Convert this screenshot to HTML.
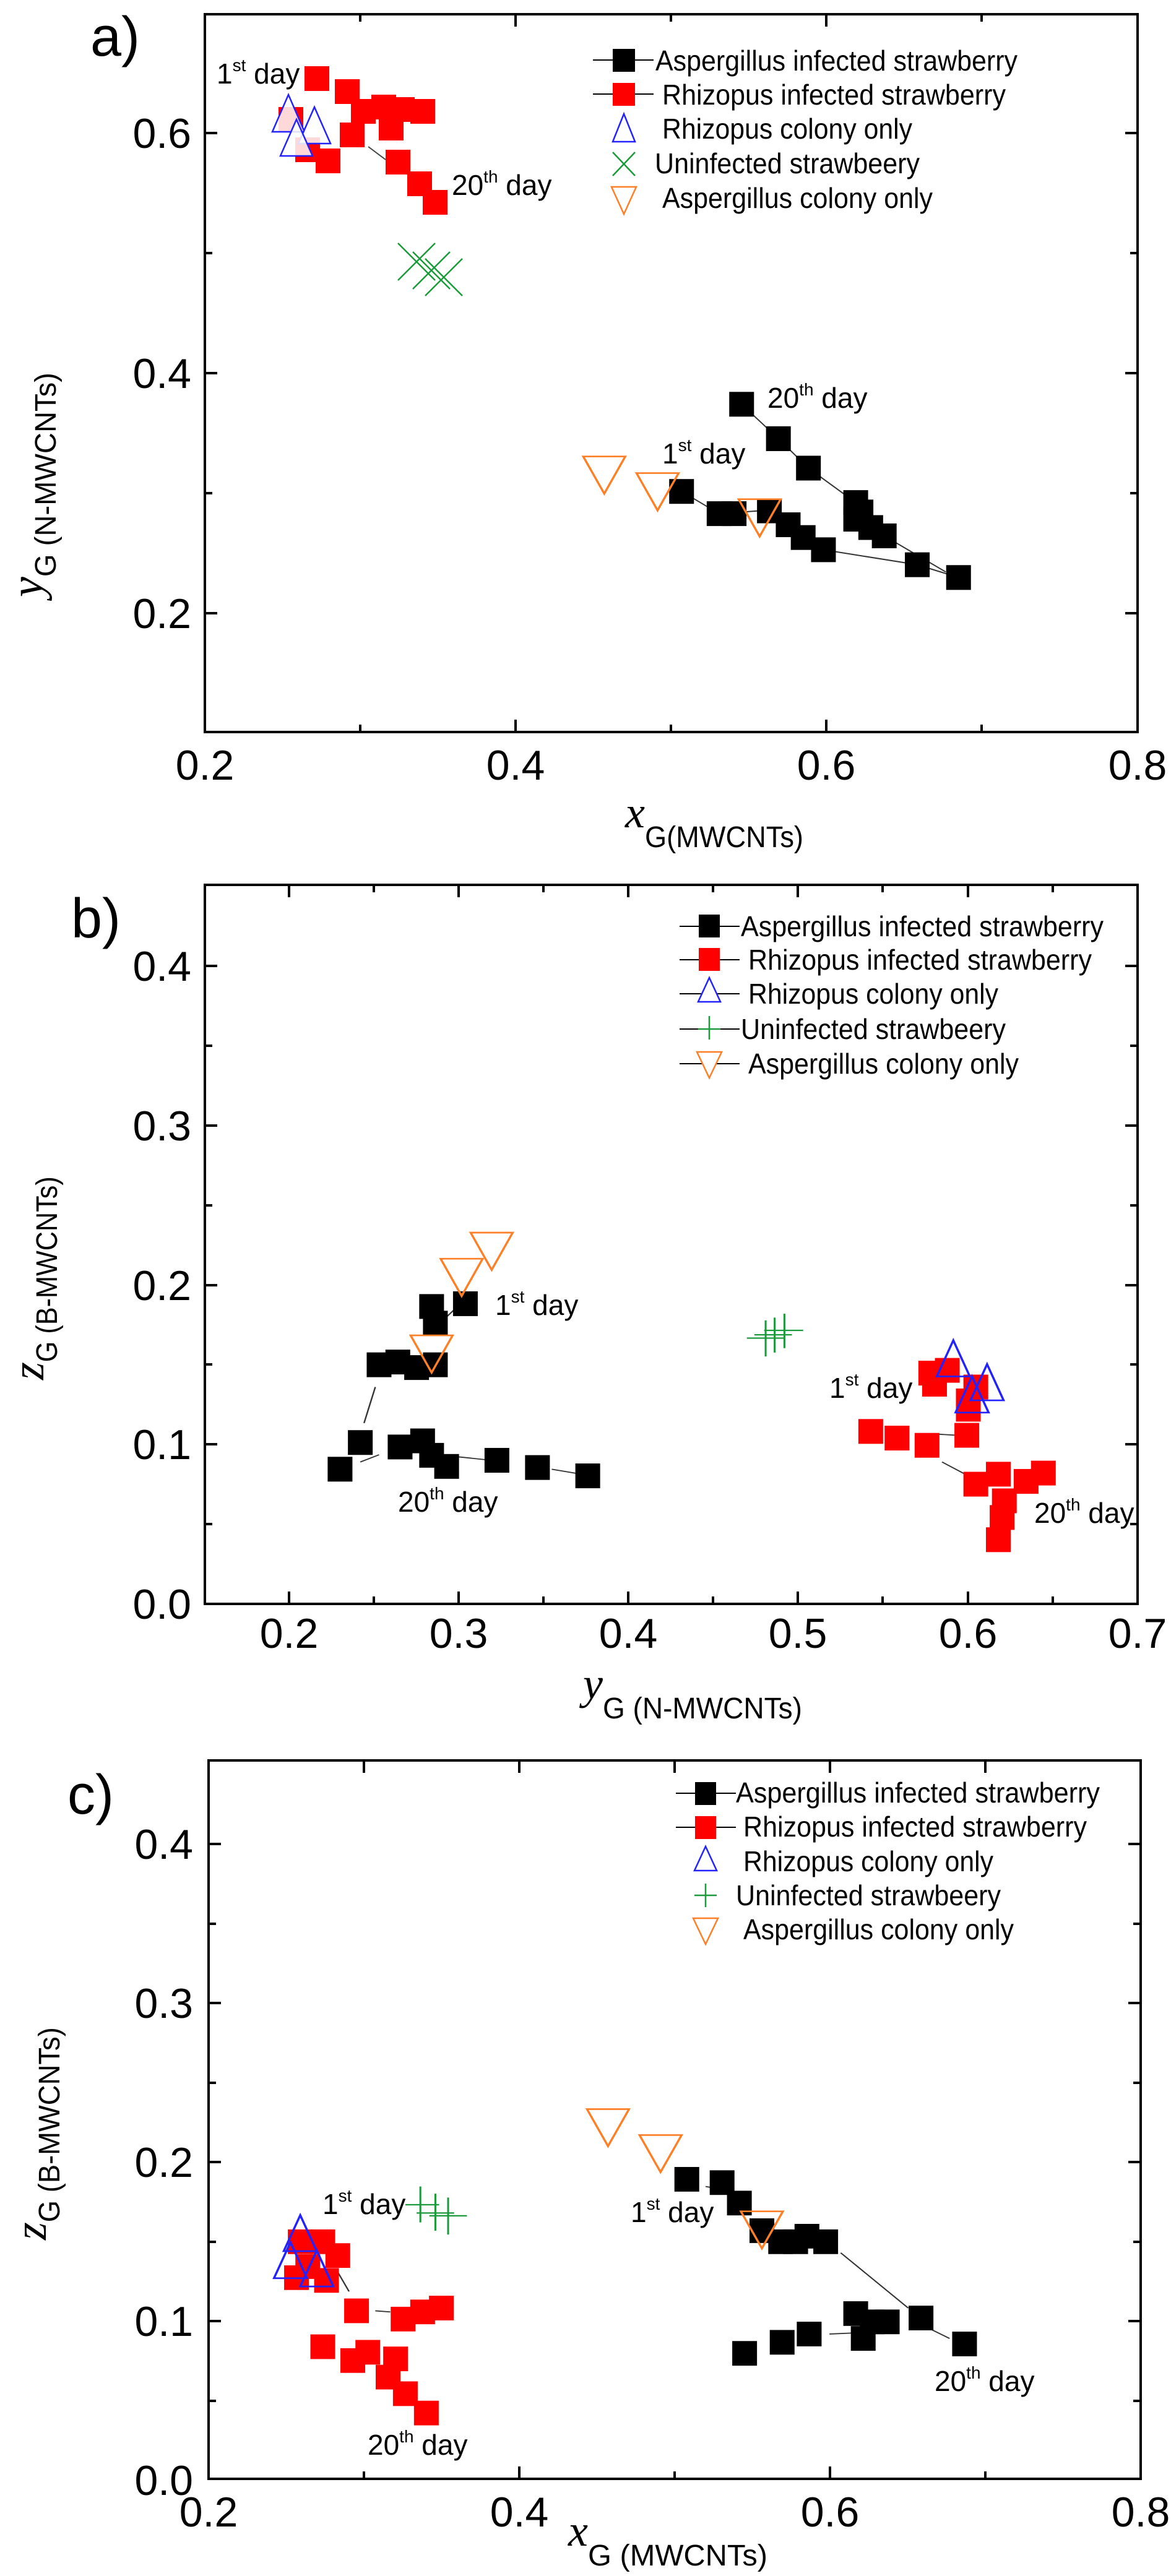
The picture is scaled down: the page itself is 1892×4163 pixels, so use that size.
<!DOCTYPE html>
<html><head><meta charset="utf-8"><style>
html,body{margin:0;padding:0;background:#fff;}
svg{display:block;}
text{font-family:"Liberation Sans",Arial,sans-serif;fill:#000;}
.it{font-family:"Liberation Serif",serif;font-style:italic;}
.sq{fill:#000;}
.rq{fill:#f00;}
.bt{fill:none;stroke:#2222ff;stroke-width:3;vector-effect:non-scaling-stroke;}
.ot{fill:none;stroke:#ff7f27;stroke-width:3;vector-effect:non-scaling-stroke;}
.gx{stroke:#1a9a3a;stroke-width:2.5;vector-effect:non-scaling-stroke;}
.ln{stroke:#333;stroke-width:2;fill:none;vector-effect:non-scaling-stroke;}
.fr{fill:none;stroke:#000;stroke-width:4;}
.tk{stroke:#000;stroke-width:4;}
.tl{font-size:68px;}
.lg{font-size:46px;}
.dl{font-size:46px;}
.sup{font-size:28px;}
</style></head><body>
<svg width="1892" height="4163" viewBox="0 0 1892 4163" xmlns="http://www.w3.org/2000/svg">
<defs>
<rect id="sqA" x="-16.5" y="-22.3" width="33" height="44.6"/>
<polygon id="tu" points="0,-36 -22,29 22,29"/>
<polygon id="td" points="-28,-33 28,-33 0,34"/>
</defs>

<!-- ================= PANEL A ================= -->
<rect class="fr" x="331" y="23" width="1507" height="1160"/>
<!-- ticks a -->
<g class="tk">
<line x1="331" y1="991" x2="351" y2="991"/><line x1="331" y1="603" x2="351" y2="603"/><line x1="331" y1="215" x2="351" y2="215"/>
<line x1="331" y1="797" x2="343" y2="797"/><line x1="331" y1="409" x2="343" y2="409"/>
<line x1="1838" y1="991" x2="1818" y2="991"/><line x1="1838" y1="603" x2="1818" y2="603"/><line x1="1838" y1="215" x2="1818" y2="215"/>
<line x1="1838" y1="797" x2="1826" y2="797"/><line x1="1838" y1="409" x2="1826" y2="409"/>
<line x1="833" y1="1183" x2="833" y2="1163"/><line x1="1335" y1="1183" x2="1335" y2="1163"/>
<line x1="582" y1="1183" x2="582" y2="1171"/><line x1="1084" y1="1183" x2="1084" y2="1171"/><line x1="1586" y1="1183" x2="1586" y2="1171"/>
<line x1="833" y1="23" x2="833" y2="43"/><line x1="1335" y1="23" x2="1335" y2="43"/>
<line x1="582" y1="23" x2="582" y2="35"/><line x1="1084" y1="23" x2="1084" y2="35"/><line x1="1586" y1="23" x2="1586" y2="35"/>
</g>
<g class="tl" text-anchor="end">
<text x="309" y="1015">0.2</text><text x="309" y="627">0.4</text><text x="309" y="239">0.6</text>
</g>
<g class="tl" text-anchor="middle">
<text x="331" y="1260">0.2</text><text x="833" y="1260">0.4</text><text x="1335" y="1260">0.6</text><text x="1838" y="1260">0.8</text>
</g>
<text x="146" y="90" font-size="90">a)</text>
<text x="1010" y="1337"><tspan class="it" font-size="72">x</tspan><tspan font-size="48" dy="32" textLength="256" lengthAdjust="spacingAndGlyphs">G(MWCNTs)</tspan></text>
<text transform="translate(68,965) rotate(-90)"><tspan class="it" font-size="74">y</tspan><tspan font-size="48" dy="22" textLength="330" lengthAdjust="spacingAndGlyphs">G (N-MWCNTs)</tspan></text>

<!-- legend a -->
<line x1="958" y1="97" x2="1056" y2="97" stroke="#000" stroke-width="2"/><rect x="990" y="79" width="36" height="37" fill="#000"/>
<line x1="958" y1="152" x2="1056" y2="152" stroke="#000" stroke-width="2"/><rect x="990" y="134" width="36" height="37" fill="#f00"/>
<polygon points="1008,184 990,229 1026,229" fill="none" stroke="#2222ff" stroke-width="2.5"/>
<g stroke="#1a9a3a" stroke-width="2.5"><line x1="990" y1="246" x2="1026" y2="284"/><line x1="1026" y1="246" x2="990" y2="284"/></g>
<polygon points="988,302 1028,302 1008,346" fill="none" stroke="#ff7f27" stroke-width="2.5"/>
<g class="lg">
<text x="1059" y="114" textLength="585" lengthAdjust="spacingAndGlyphs">Aspergillus infected strawberry</text>
<text x="1070" y="169" textLength="555" lengthAdjust="spacingAndGlyphs">Rhizopus infected strawberry</text>
<text x="1070" y="224" textLength="404" lengthAdjust="spacingAndGlyphs">Rhizopus colony only</text>
<text x="1058" y="280" textLength="428" lengthAdjust="spacingAndGlyphs">Uninfected strawbeery</text>
<text x="1070" y="336" textLength="437" lengthAdjust="spacingAndGlyphs">Aspergillus colony only</text>
</g>

<!-- a upper-left cluster (real coords) -->
<line x1="595" y1="237" x2="623" y2="258" stroke="#444" stroke-width="2"/>
<g fill="#f00">
<rect x="492" y="107" width="40" height="40"/><rect x="541" y="128" width="40" height="40"/>
<rect x="567" y="160" width="40" height="40"/><rect x="600" y="153" width="40" height="40"/>
<rect x="612" y="187" width="40" height="40"/><rect x="630" y="157" width="40" height="40"/>
<rect x="663" y="160" width="40" height="40"/><rect x="549" y="198" width="40" height="40"/>
<rect x="450" y="173" width="40" height="40"/><rect x="510" y="240" width="40" height="40"/>
<rect x="477" y="222" width="40" height="40"/><rect x="623" y="242" width="40" height="40"/>
<rect x="658" y="277" width="40" height="40"/><rect x="683" y="307" width="40" height="40"/>
</g>
<g fill="#fff" fill-opacity="0.85" stroke="#2222ff" stroke-width="2.5">
<polygon points="466,153 440,213 492,213"/>
<polygon points="508,173 482,232 534,232"/>
<polygon points="479,193 453,252 505,252"/>
</g>
<g stroke="#1a9a3a" stroke-width="2.5">
<line x1="643" y1="393" x2="703" y2="453"/><line x1="703" y1="393" x2="643" y2="453"/>
<line x1="667" y1="407" x2="727" y2="467"/><line x1="727" y1="407" x2="667" y2="467"/>
<line x1="687" y1="418" x2="747" y2="478"/><line x1="747" y1="418" x2="687" y2="478"/>
</g>
<text class="dl" x="350" y="135">1<tspan class="sup" dy="-20">st</tspan><tspan dy="20"> day</tspan></text>
<text class="dl" x="730" y="315">20<tspan class="sup" dy="-20">th</tspan><tspan dy="20"> day</tspan></text>

<!-- a right cluster (display coords) -->
<g transform="scale(1.2128,0.8974)">
<polyline class="ln" points="988,728 1037,790 1077,843 1140,905 1178,965 1260,1030"/>
<polyline class="ln" points="908,885 958,925 1010,920 1050,945 1070,968 1097,990 1222,1017 1277,1040"/>
<g class="sq">
<use href="#sqA" x="908" y="885"/><use href="#sqA" x="958" y="925"/><use href="#sqA" x="978" y="925"/><use href="#sqA" x="1025" y="920"/>
<use href="#sqA" x="1050" y="945"/><use href="#sqA" x="1070" y="968"/><use href="#sqA" x="1097" y="990"/>
<use href="#sqA" x="988" y="728"/><use href="#sqA" x="1037" y="790"/><use href="#sqA" x="1077" y="843"/>
<use href="#sqA" x="1140" y="905"/><use href="#sqA" x="1147" y="922"/><use href="#sqA" x="1140" y="935"/>
<use href="#sqA" x="1160" y="950"/><use href="#sqA" x="1178" y="965"/><use href="#sqA" x="1222" y="1017"/><use href="#sqA" x="1277" y="1040"/>
</g>
<g class="ot"><use href="#td" x="805" y="855"/><use href="#td" x="876" y="885"/><use href="#td" x="1012" y="932"/></g>
</g>
<text class="dl" x="1240" y="659">20<tspan class="sup" dy="-20">th</tspan><tspan dy="20"> day</tspan></text>
<text class="dl" x="1070" y="749">1<tspan class="sup" dy="-20">st</tspan><tspan dy="20"> day</tspan></text>

<!-- ================= PANEL B ================= -->
<rect class="fr" x="331" y="1430" width="1507" height="1162"/>
<g class="tk">
<line x1="331" y1="2334" x2="351" y2="2334"/><line x1="331" y1="2077" x2="351" y2="2077"/><line x1="331" y1="1819" x2="351" y2="1819"/><line x1="331" y1="1561" x2="351" y2="1561"/>
<line x1="331" y1="2463" x2="343" y2="2463"/><line x1="331" y1="2205" x2="343" y2="2205"/><line x1="331" y1="1948" x2="343" y2="1948"/><line x1="331" y1="1690" x2="343" y2="1690"/>
<line x1="1838" y1="2334" x2="1818" y2="2334"/><line x1="1838" y1="2077" x2="1818" y2="2077"/><line x1="1838" y1="1819" x2="1818" y2="1819"/><line x1="1838" y1="1561" x2="1818" y2="1561"/>
<line x1="1838" y1="2463" x2="1826" y2="2463"/><line x1="1838" y1="2205" x2="1826" y2="2205"/><line x1="1838" y1="1948" x2="1826" y2="1948"/><line x1="1838" y1="1690" x2="1826" y2="1690"/>
<line x1="467" y1="2592" x2="467" y2="2572"/><line x1="741" y1="2592" x2="741" y2="2572"/><line x1="1015" y1="2592" x2="1015" y2="2572"/><line x1="1289" y1="2592" x2="1289" y2="2572"/><line x1="1564" y1="2592" x2="1564" y2="2572"/>
<line x1="604" y1="2592" x2="604" y2="2580"/><line x1="878" y1="2592" x2="878" y2="2580"/><line x1="1152" y1="2592" x2="1152" y2="2580"/><line x1="1426" y1="2592" x2="1426" y2="2580"/><line x1="1701" y1="2592" x2="1701" y2="2580"/>
<line x1="467" y1="1430" x2="467" y2="1450"/><line x1="741" y1="1430" x2="741" y2="1450"/><line x1="1015" y1="1430" x2="1015" y2="1450"/><line x1="1289" y1="1430" x2="1289" y2="1450"/><line x1="1564" y1="1430" x2="1564" y2="1450"/>
<line x1="604" y1="1430" x2="604" y2="1442"/><line x1="878" y1="1430" x2="878" y2="1442"/><line x1="1152" y1="1430" x2="1152" y2="1442"/><line x1="1426" y1="1430" x2="1426" y2="1442"/><line x1="1701" y1="1430" x2="1701" y2="1442"/>
</g>
<g class="tl" text-anchor="end">
<text x="309" y="2616">0.0</text><text x="309" y="2358">0.1</text><text x="309" y="2101">0.2</text><text x="309" y="1843">0.3</text><text x="309" y="1585">0.4</text>
</g>
<g class="tl" text-anchor="middle">
<text x="467" y="2663">0.2</text><text x="741" y="2663">0.3</text><text x="1015" y="2663">0.4</text><text x="1289" y="2663">0.5</text><text x="1564" y="2663">0.6</text><text x="1838" y="2663">0.7</text>
</g>
<text x="115" y="1515" font-size="90">b)</text>
<text x="942" y="2745"><tspan class="it" font-size="72">y</tspan><tspan font-size="48" dy="32" textLength="322" lengthAdjust="spacingAndGlyphs">G (N-MWCNTs)</tspan></text>
<text transform="translate(70,2230) rotate(-90)"><tspan class="it" font-size="74">z</tspan><tspan font-size="48" dy="22" textLength="300" lengthAdjust="spacingAndGlyphs">G (B-MWCNTs)</tspan></text>

<!-- legend b -->
<g stroke="#000" stroke-width="2">
<line x1="1098" y1="1497" x2="1195" y2="1497"/><line x1="1098" y1="1551" x2="1195" y2="1551"/><line x1="1098" y1="1606" x2="1195" y2="1606"/><line x1="1098" y1="1663" x2="1195" y2="1663"/><line x1="1098" y1="1719" x2="1195" y2="1719"/>
</g>
<rect x="1129" y="1478" width="34" height="37" fill="#000"/>
<rect x="1129" y="1532" width="34" height="37" fill="#f00"/>
<polygon points="1146,1580 1128,1619 1164,1619" fill="#fff" stroke="#2222ff" stroke-width="2.5"/>
<g stroke="#1a9a3a" stroke-width="2.5"><line x1="1146" y1="1642" x2="1146" y2="1680"/><line x1="1128" y1="1663" x2="1164" y2="1663"/></g>
<polygon points="1126,1700 1166,1700 1146,1742" fill="#fff" stroke="#ff7f27" stroke-width="2.5"/>
<g class="lg">
<text x="1197" y="1513" textLength="586" lengthAdjust="spacingAndGlyphs">Aspergillus infected strawberry</text>
<text x="1209" y="1567" textLength="555" lengthAdjust="spacingAndGlyphs">Rhizopus infected strawberry</text>
<text x="1209" y="1622" textLength="404" lengthAdjust="spacingAndGlyphs">Rhizopus colony only</text>
<text x="1197" y="1679" textLength="428" lengthAdjust="spacingAndGlyphs">Uninfected strawbeery</text>
<text x="1209" y="1735" textLength="437" lengthAdjust="spacingAndGlyphs">Aspergillus colony only</text>
</g>

<g transform="translate(0,1380) scale(1.2128,0.8974)">
<g class="ln">
<line x1="485" y1="1025" x2="500" y2="960"/><line x1="480" y1="1095" x2="505" y2="1082"/>
<line x1="605" y1="1085" x2="655" y2="1092"/><line x1="735" y1="1108" x2="770" y2="1116"/>
<line x1="590" y1="840" x2="612" y2="812"/>
<line x1="1255" y1="1095" x2="1290" y2="1120"/><line x1="1250" y1="1045" x2="1275" y2="1047"/>
</g>
<g class="sq">
<use href="#sqA" x="453" y="1108"/><use href="#sqA" x="480" y="1060"/><use href="#sqA" x="505" y="920"/><use href="#sqA" x="530" y="915"/>
<use href="#sqA" x="555" y="925"/><use href="#sqA" x="580" y="920"/><use href="#sqA" x="575" y="815"/><use href="#sqA" x="580" y="845"/>
<use href="#sqA" x="620" y="810"/><use href="#sqA" x="533" y="1068"/><use href="#sqA" x="563" y="1057"/><use href="#sqA" x="575" y="1083"/>
<use href="#sqA" x="595" y="1103"/><use href="#sqA" x="662" y="1092"/><use href="#sqA" x="716" y="1105"/><use href="#sqA" x="783" y="1120"/>
</g>
<g class="ot"><use href="#td" x="575" y="900"/><use href="#td" x="615" y="762"/><use href="#td" x="655" y="715"/></g>
<g class="gx">
<line x1="1020" y1="840" x2="1020" y2="905"/><line x1="995" y1="872" x2="1045" y2="872"/>
<line x1="1032" y1="835" x2="1032" y2="898"/><line x1="1005" y1="866" x2="1055" y2="866"/>
<line x1="1045" y1="828" x2="1045" y2="890"/><line x1="1018" y1="858" x2="1070" y2="858"/>
</g>
<g class="rq">
<use href="#sqA" x="1160" y="1040"/><use href="#sqA" x="1195" y="1052"/><use href="#sqA" x="1235" y="1065"/><use href="#sqA" x="1288" y="1047"/>
<use href="#sqA" x="1240" y="935"/><use href="#sqA" x="1245" y="955"/><use href="#sqA" x="1262" y="930"/><use href="#sqA" x="1290" y="985"/>
<use href="#sqA" x="1290" y="1000"/><use href="#sqA" x="1300" y="1135"/><use href="#sqA" x="1330" y="1117"/><use href="#sqA" x="1367" y="1130"/>
<use href="#sqA" x="1390" y="1115"/><use href="#sqA" x="1338" y="1165"/><use href="#sqA" x="1335" y="1195"/><use href="#sqA" x="1330" y="1235"/><use href="#sqA" x="1300" y="960"/>
</g>
<g class="bt" fill="#fff"><use href="#tu" x="1270" y="912"/><use href="#tu" x="1315" y="955"/><use href="#tu" x="1295" y="977"/></g>
</g>
<text class="dl" x="800" y="2125">1<tspan class="sup" dy="-20">st</tspan><tspan dy="20"> day</tspan></text>
<text class="dl" x="643" y="2443">20<tspan class="sup" dy="-20">th</tspan><tspan dy="20"> day</tspan></text>
<text class="dl" x="1340" y="2259">1<tspan class="sup" dy="-20">st</tspan><tspan dy="20"> day</tspan></text>
<text class="dl" x="1671" y="2461">20<tspan class="sup" dy="-20">th</tspan><tspan dy="20"> day</tspan></text>

<!-- ================= PANEL C ================= -->
<rect class="fr" x="337" y="2845" width="1506" height="1161"/>
<g class="tk">
<line x1="337" y1="3751" x2="357" y2="3751"/><line x1="337" y1="3494" x2="357" y2="3494"/><line x1="337" y1="3237" x2="357" y2="3237"/><line x1="337" y1="2980" x2="357" y2="2980"/>
<line x1="337" y1="3880" x2="349" y2="3880"/><line x1="337" y1="3623" x2="349" y2="3623"/><line x1="337" y1="3366" x2="349" y2="3366"/><line x1="337" y1="3109" x2="349" y2="3109"/>
<line x1="1843" y1="3751" x2="1823" y2="3751"/><line x1="1843" y1="3494" x2="1823" y2="3494"/><line x1="1843" y1="3237" x2="1823" y2="3237"/><line x1="1843" y1="2980" x2="1823" y2="2980"/>
<line x1="1843" y1="3880" x2="1831" y2="3880"/><line x1="1843" y1="3623" x2="1831" y2="3623"/><line x1="1843" y1="3366" x2="1831" y2="3366"/><line x1="1843" y1="3109" x2="1831" y2="3109"/>
<line x1="839" y1="4006" x2="839" y2="3986"/><line x1="1341" y1="4006" x2="1341" y2="3986"/>
<line x1="588" y1="4006" x2="588" y2="3994"/><line x1="1090" y1="4006" x2="1090" y2="3994"/><line x1="1592" y1="4006" x2="1592" y2="3994"/>
<line x1="839" y1="2845" x2="839" y2="2865"/><line x1="1341" y1="2845" x2="1341" y2="2865"/>
<line x1="588" y1="2845" x2="588" y2="2865"/><line x1="1090" y1="2845" x2="1090" y2="2865"/><line x1="1592" y1="2845" x2="1592" y2="2865"/>
</g>
<g class="tl" text-anchor="end">
<text x="312" y="4032">0.0</text><text x="312" y="3775">0.1</text><text x="312" y="3518">0.2</text><text x="312" y="3261">0.3</text><text x="312" y="3004">0.4</text>
</g>
<g class="tl" text-anchor="middle">
<text x="337" y="4083">0.2</text><text x="839" y="4083">0.4</text><text x="1341" y="4083">0.6</text><text x="1843" y="4083">0.8</text>
</g>
<text x="109" y="2931" font-size="90">c)</text>
<text x="918" y="4114"><tspan class="it" font-size="72">x</tspan><tspan font-size="48" dy="32" textLength="290" lengthAdjust="spacingAndGlyphs">G  (MWCNTs)</tspan></text>
<text transform="translate(74,3620) rotate(-90)"><tspan class="it" font-size="74">z</tspan><tspan font-size="48" dy="22" textLength="315" lengthAdjust="spacingAndGlyphs">G (B-MWCNTs)</tspan></text>

<!-- legend c -->
<g stroke="#000" stroke-width="2"><line x1="1092" y1="2898" x2="1189" y2="2898"/><line x1="1092" y1="2953" x2="1189" y2="2953"/></g>
<rect x="1123" y="2880" width="34" height="37" fill="#000"/>
<rect x="1123" y="2935" width="34" height="37" fill="#f00"/>
<polygon points="1140,2984 1122,3023 1158,3023" fill="none" stroke="#2222ff" stroke-width="2.5"/>
<g stroke="#1a9a3a" stroke-width="2.5"><line x1="1140" y1="3044" x2="1140" y2="3082"/><line x1="1122" y1="3063" x2="1158" y2="3063"/></g>
<polygon points="1120,3100 1160,3100 1140,3142" fill="none" stroke="#ff7f27" stroke-width="2.5"/>
<g class="lg">
<text x="1189" y="2913" textLength="588" lengthAdjust="spacingAndGlyphs">Aspergillus infected strawberry</text>
<text x="1201" y="2968" textLength="555" lengthAdjust="spacingAndGlyphs">Rhizopus infected strawberry</text>
<text x="1201" y="3024" textLength="404" lengthAdjust="spacingAndGlyphs">Rhizopus colony only</text>
<text x="1189" y="3079" textLength="428" lengthAdjust="spacingAndGlyphs">Uninfected strawbeery</text>
<text x="1201" y="3134" textLength="437" lengthAdjust="spacingAndGlyphs">Aspergillus colony only</text>
</g>

<g transform="translate(0,2770) scale(1.2128,0.893)">
<g class="ln">
<line x1="940" y1="855" x2="960" y2="860"/><line x1="1120" y1="975" x2="1210" y2="1075"/>
<line x1="1235" y1="1110" x2="1265" y2="1130"/><line x1="1105" y1="1122" x2="1140" y2="1120"/>
<line x1="450" y1="1010" x2="465" y2="1045"/><line x1="500" y1="1080" x2="520" y2="1082"/>
</g>
<g class="sq">
<use href="#sqA" x="915" y="842"/><use href="#sqA" x="962" y="848"/><use href="#sqA" x="985" y="885"/><use href="#sqA" x="1015" y="935"/>
<use href="#sqA" x="1040" y="955"/><use href="#sqA" x="1060" y="955"/><use href="#sqA" x="1075" y="945"/><use href="#sqA" x="1100" y="955"/>
<use href="#sqA" x="1140" y="1085"/><use href="#sqA" x="1150" y="1130"/><use href="#sqA" x="1162" y="1100"/><use href="#sqA" x="1182" y="1100"/>
<use href="#sqA" x="1227" y="1093"/><use href="#sqA" x="1285" y="1140"/><use href="#sqA" x="992" y="1157"/><use href="#sqA" x="1042" y="1137"/><use href="#sqA" x="1078" y="1122"/>
</g>
<g class="ot"><use href="#td" x="810" y="748"/><use href="#td" x="880" y="795"/><use href="#td" x="1015" y="933"/></g>
<g class="gx">
<line x1="560" y1="855" x2="560" y2="920"/><line x1="540" y1="888" x2="585" y2="888"/>
<line x1="580" y1="868" x2="580" y2="935"/><line x1="555" y1="903" x2="605" y2="903"/>
<line x1="597" y1="875" x2="597" y2="942"/><line x1="572" y1="908" x2="622" y2="908"/>
</g>
<g class="rq">
<use href="#sqA" x="400" y="955"/><use href="#sqA" x="430" y="955"/><use href="#sqA" x="450" y="980"/><use href="#sqA" x="410" y="1000"/>
<use href="#sqA" x="435" y="1025"/><use href="#sqA" x="475" y="1080"/><use href="#sqA" x="537" y="1095"/><use href="#sqA" x="563" y="1082"/>
<use href="#sqA" x="588" y="1075"/><use href="#sqA" x="430" y="1145"/><use href="#sqA" x="470" y="1170"/><use href="#sqA" x="490" y="1155"/>
<use href="#sqA" x="527" y="1167"/><use href="#sqA" x="517" y="1200"/><use href="#sqA" x="540" y="1230"/><use href="#sqA" x="568" y="1265"/><use href="#sqA" x="395" y="1020"/>
</g>
<g class="bt" fill="#fff"><use href="#tu" x="400" y="943"/><use href="#tu" x="387" y="992"/><use href="#tu" x="422" y="1007"/></g>
</g>
<text class="dl" x="521" y="3578">1<tspan class="sup" dy="-20">st</tspan><tspan dy="20"> day</tspan></text>
<text class="dl" x="1019" y="3591">1<tspan class="sup" dy="-20">st</tspan><tspan dy="20"> day</tspan></text>
<text class="dl" x="594" y="3967">20<tspan class="sup" dy="-20">th</tspan><tspan dy="20"> day</tspan></text>
<text class="dl" x="1510" y="3864">20<tspan class="sup" dy="-20">th</tspan><tspan dy="20"> day</tspan></text>
</svg>
</body></html>
